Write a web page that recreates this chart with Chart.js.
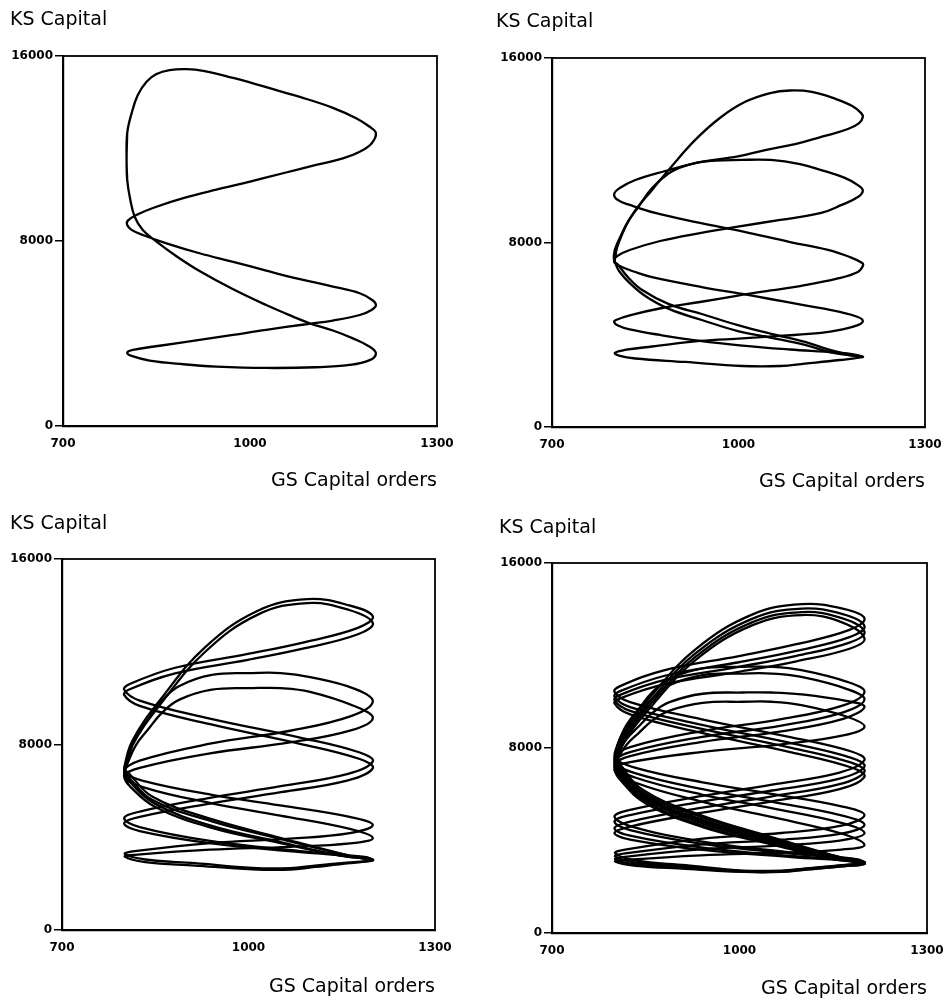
<!DOCTYPE html>
<html>
<head>
<meta charset="utf-8">
<script src="https://cdn.jsdelivr.net/npm/chart.js@4.4.1/dist/chart.umd.min.js"></script>
<style>
  body { margin: 0; background: #fff; }
  canvas { position: absolute; }
</style>
</head>
<body>
<canvas id="c1"></canvas>
<canvas id="c2"></canvas>
<canvas id="c3"></canvas>
<canvas id="c4"></canvas>
<script>
// axis texts and ticks
const yLabel = 'KS Capital';
const xLabel = 'GS Capital orders';
const xTicks = [700, 1000, 1300];
const yTicks = [0, 8000, 16000];

// trajectories [GS capital orders, KS capital]
const p1Loop = [[802,11500],[803,12660],[810,13520],[820,14310],[834,14890],[850,15220],[871,15390],[898,15430],[925,15360],[973,15050],[1026,14650],[1080,14230],[1133,13760],[1171,13300],[1192,12940],[1202,12660],
  [1195,12220],[1176,11860],[1149,11570],[1106,11290],[1053,10930],[1000,10570],[946,10220],[893,9850],[850,9480],[818,9130],[804,8880],[803,8690],
  [810,8480],[828,8260],[866,7900],[919,7470],[973,7100],[1026,6720],[1080,6350],[1133,6030],[1176,5740],[1196,5450],[1202,5230],
  [1195,5020],[1176,4800],[1133,4560],[1090,4400],[1026,4160],[973,3940],[919,3720],[855,3470],[812,3290],[803,3170],
  [810,3030],[839,2830],[893,2670],[946,2570],[1026,2510],[1106,2540],[1160,2640],[1192,2850],[1202,3140],
  [1192,3430],[1165,3790],[1133,4130],[1096,4440],[1069,4730],[1026,5230],[973,5910],[919,6700],[882,7340],[850,7970],[828,8480],[815,9050],[807,9920],[803,10640]];

const p2LoopA = [[800,7150],[801,7680],[813,8410],[832,9320],[861,10280],[893,11320],[930,12440],[970,13400],[1010,14090],[1051,14480],[1083,14590],[1118,14530],[1157,14220],[1183,13920],[1197,13620],[1200,13440],
  [1194,13180],[1176,12920],[1139,12620],[1091,12270],[1043,12010],[999,11730],[938,11490],[882,11100],[834,10710],[809,10360],[800,10100],
  [806,9840],[825,9630],[866,9280],[938,8850],[1006,8480],[1083,8020],[1144,7680],[1179,7370],[1199,7110],[1200,6980],
  [1192,6720],[1160,6440],[1099,6110],[1052,5920],[999,5700],[938,5420],[877,5160],[825,4840],[803,4640],[800,4550],
  [806,4400],[825,4230],[874,3990],[938,3730],[1006,3530],[1083,3360],[1155,3230],[1187,3140],[1200,3035],
  [1187,3100],[1147,3340],[1107,3690],[1051,4050],[999,4420],[941,4900],[888,5330],[845,5940],[822,6500],[805,7070]];
const p2LoopB = [[805,7805],[819,8760],[839,9550],[861,10360],[888,11000],[914,11320],[941,11500],[1006,11580],[1052,11580],[1099,11400],[1133,11140],[1171,10800],[1192,10490],[1200,10255],
  [1192,9970],[1166,9630],[1133,9280],[1067,8980],[999,8690],[938,8410],[874,8065],[825,7675],[805,7415],[800,7200],
  [809,6980],[834,6720],[861,6500],[941,6070],[1006,5770],[1051,5550],[1107,5270],[1163,4990],[1192,4770],[1200,4600],
  [1192,4420],[1163,4210],[1133,4080],[1067,3950],[1006,3840],[938,3730],[861,3490],[817,3340],[801,3210],
  [809,3080],[834,2970],[914,2820],[1006,2645],[1067,2645],[1107,2750],[1163,2905],[1200,3035],
  [1187,3080],[1147,3250],[1107,3560],[1051,3880],[999,4160],[941,4640],[888,5120],[850,5680],[825,6240],[809,6720],[803,7020],[801,7250]];

const p3LoopA1 = [[800,6900],[813,8150],[861,10030],[930,12190],[1015,13770],[1095,14270],[1162,14000],[1200,13525],
  [1176,13030],[1091,12420],[999,11905],[882,11310],[809,10610],[800,10360],
  [825,9895],[938,9120],[1083,8300],[1179,7655],[1200,7270],
  [1160,6730],[1052,6200],[938,5700],[825,5105],[800,4820],
  [825,4440],[938,3845],[1083,3405],[1187,3150],[1200,3020],
  [1147,3307],[1051,3978],[941,4778],[845,5759],[805,6822]];
const p3LoopA2 = [[800,6700],[813,7950],[861,9830],[930,11990],[1015,13600],[1095,14100],[1162,13800],[1200,13240],
  [1176,12756],[1091,12155],[999,11653],[882,11070],[809,10382],[800,10140],
  [825,9666],[938,8876],[1083,8032],[1179,7375],[1200,6980],
  [1160,6452],[1052,5942],[938,5452],[825,4878],[800,4600],
  [825,4268],[938,3747],[1083,3360],[1187,3135],[1200,3020],
  [1147,3292],[1051,3929],[941,4687],[845,5618],[805,6626]];
const p3LoopB1 = [[800,6830],[805,7417],[819,8342],[839,9111],[861,9898],[888,10516],[941,11004],[1006,11080],[1052,11080],[1099,10907],[1171,10400],[1200,9860],
  [1166,9236],[1067,8593],[938,8033],[825,7303],[800,6830],
  [834,6409],[941,5832],[1051,5374],[1163,4875],[1200,4530],
  [1163,4180],[1067,3942],[938,3749],[817,3397],[801,3280],
  [834,3040],[914,2880],[1006,2680],[1067,2670],[1107,2780],[1163,2920],[1200,3020],
  [1147,3218],[1051,3793],[941,4487],[850,5439],[809,6392]];
const p3LoopB2 = [[800,6620],[805,7146],[819,7976],[839,8666],[861,9372],[888,9926],[941,10364],[1006,10430],[1052,10430],[1099,10270],[1171,9650],[1200,9140],
  [1166,8621],[1067,8087],[938,7620],[825,6993],[800,6620],
  [834,6133],[941,5466],[1051,4936],[1163,4359],[1200,3960],
  [1163,3737],[1067,3586],[938,3463],[817,3240],[801,3165],
  [834,2930],[914,2780],[1006,2620],[1067,2610],[1107,2720],[1163,2880],[1200,3020],
  [1147,3207],[1051,3751],[941,4406],[850,5306],[809,6206]];

const p4LoopA1 = [[800,7500],[813,8629],[861,10322],[930,12278],[1020,13770],[1100,14220],[1165,14022],[1200,13600],
  [1176,13105],[1091,12490],[999,11977],[882,11381],[809,10677],[800,10430],
  [825,9987],[938,9250],[1083,8462],[1179,7849],[1200,7480],
  [1160,6938],[1052,6416],[938,5914],[825,5325],[800,5040],
  [825,4622],[938,3965],[1083,3478],[1187,3195],[1200,3050],
  [1147,3379],[1051,4149],[941,5066],[845,6192],[805,7411]];
const p4LoopA2 = [[800,7350],[813,8472],[861,10156],[930,12099],[1020,13582],[1100,14030],[1165,13787],[1200,13270],
  [1176,12794],[1091,12202],[999,11708],[882,11135],[809,10458],[800,10220],
  [825,9767],[938,9012],[1083,8206],[1179,7577],[1200,7200],
  [1160,6672],[1052,6162],[938,5672],[825,5098],[800,4820],
  [825,4448],[938,3864],[1083,3431],[1187,3179],[1200,3050],
  [1147,3368],[1051,4112],[941,4998],[845,6086],[805,7264]];
const p4LoopA3 = [[800,7200],[813,8322],[861,10006],[930,11949],[1020,13432],[1100,13880],[1165,13605],[1200,13020],
  [1176,12560],[1091,11987],[999,11510],[882,10955],[809,10300],[800,10070],
  [825,9606],[938,8834],[1083,8009],[1179,7366],[1200,6980],
  [1160,6436],[1052,5912],[938,5407],[825,4817],[800,4530],
  [825,4209],[938,3704],[1083,3329],[1187,3112],[1200,3000],
  [1147,3311],[1051,4037],[941,4903],[845,5965],[805,7116]];
const p4LoopA4 = [[800,7050],[813,8176],[861,9864],[930,11814],[1020,13301],[1100,13750],[1165,13424],[1200,12730],
  [1176,12293],[1091,11750],[999,11296],[882,10770],[809,10148],[800,9930],
  [825,9454],[938,8662],[1083,7816],[1179,7156],[1200,6760],
  [1160,6218],[1052,5696],[938,5194],[825,4605],[800,4320],
  [825,4043],[938,3607],[1083,3284],[1187,3096],[1200,3000],
  [1147,3300],[1051,4000],[941,4835],[845,5859],[805,6969]];
const p4LoopB1 = [[800,7600],[805,8140],[819,8992],[839,9700],[861,10427],[888,10994],[941,11444],[1006,11510],[1052,11510],[1099,11369],[1171,10873],[1200,10430],
  [1166,9847],[1067,9247],[938,8724],[825,8041],[800,7600],
  [834,7142],[941,6515],[1051,6017],[1163,5475],[1200,5100],
  [1163,4638],[1067,4324],[938,4069],[817,3605],[801,3450],
  [834,3135],[914,2932],[1006,2700],[1067,2700],[1107,2798],[1163,2931],[1200,3050],
  [1147,3287],[1051,3974],[941,4802],[850,5939],[809,7077]];
const p4LoopB2 = [[800,7400],[805,7927],[819,8760],[839,9451],[861,10162],[888,10716],[941,11155],[1006,11220],[1052,11220],[1099,11073],[1171,10559],[1200,10100],
  [1166,9544],[1067,8971],[938,8472],[825,7821],[800,7400],
  [834,6902],[941,6220],[1051,5678],[1163,5088],[1200,4680],
  [1163,4296],[1067,4036],[938,3824],[817,3439],[801,3310],
  [834,3045],[914,2875],[1006,2680],[1067,2680],[1107,2784],[1163,2924],[1200,3050],
  [1147,3276],[1051,3933],[941,4725],[850,5812],[809,6900]];
const p4LoopB3 = [[800,7250],[805,7685],[819,8371],[839,8942],[861,9527],[888,9984],[941,10346],[1006,10400],[1052,10400],[1099,10319],[1171,10034],[1200,9780],
  [1166,9259],[1067,8722],[938,8254],[825,7645],[800,7250],
  [834,6714],[941,5978],[1051,5395],[1163,4759],[1200,4320],
  [1163,4004],[1067,3789],[938,3614],[817,3296],[801,3190],
  [834,2963],[914,2817],[1006,2650],[1067,2650],[1107,2748],[1163,2881],[1200,3000],
  [1147,3221],[1051,3863],[941,4636],[850,5699],[809,6761]];
const p4LoopB4 = [[800,7100],[805,7500],[819,8132],[839,8657],[861,9197],[888,9617],[941,9951],[1006,10000],[1052,10000],[1099,9859],[1171,9363],[1200,8920],
  [1166,8545],[1067,8159],[938,7823],[825,7384],[800,7100],
  [834,6498],[941,5672],[1051,5017],[1163,4303],[1200,3810],
  [1163,3608],[1067,3472],[938,3360],[817,3158],[801,3090],
  [834,2901],[914,2779],[1006,2640],[1067,2640],[1107,2741],[1163,2878],[1200,3000],
  [1147,3213],[1051,3832],[941,4579],[850,5604],[809,6629]];

// layout of the four panels (page pixels)
const panels = [
  { id: 'c1', loops: [p1Loop], left: 10, top: 0, w: 460, h: 495, yW: 53, xH: 69, right: 33, tTop: 8.6, tBot: 24.6, xtBot: 2.6 },
  { id: 'c2', loops: [p2LoopA, p2LoopB], left: 496, top: 0, w: 450, h: 495, yW: 56, xH: 68, right: 21, tTop: 10.6, tBot: 24.6, xtBot: 1.9 },
  { id: 'c3', loops: [p3LoopA1, p3LoopA2, p3LoopB1, p3LoopB2], left: 10, top: 500, w: 460, h: 500, yW: 52, xH: 70, right: 35, tTop: 12.6, tBot: 23.6, xtBot: 1.6 },
  { id: 'c4', loops: [p4LoopA1, p4LoopA2, p4LoopA3, p4LoopA4, p4LoopB1, p4LoopB2, p4LoopB3, p4LoopB4], left: 499, top: 500, w: 447, h: 500, yW: 53, xH: 67, right: 19, tTop: 16.6, tBot: 23.6, xtBot: 0 }
];

Chart.defaults.font.family = "'DejaVu Sans', sans-serif";
Chart.defaults.color = '#000';

// box around the plot
const frame = {
  id: 'frame',
  afterDraw(chart) {
    const { ctx, chartArea: a } = chart;
    ctx.save();
    ctx.strokeStyle = '#000';
    ctx.lineWidth = 1.8;
    ctx.strokeRect(a.left, a.top, a.right - a.left, a.bottom - a.top);
    ctx.restore();
  }
};

// close a loop so the spline stays smooth where it starts
function closed(loop) {
  return [loop[loop.length - 1], ...loop, loop[0], loop[1]].map(([x, y]) => ({ x, y }));
}

const tickFont = { size: 12, weight: 'bold' };
const textFont = { size: 19, weight: 'normal' };

panels.forEach(p => {
  const cv = document.getElementById(p.id);
  cv.width = p.w;
  cv.height = p.h;
  cv.style.left = p.left + 'px';
  cv.style.top = p.top + 'px';
  cv.style.width = p.w + 'px';
  cv.style.height = p.h + 'px';

  new Chart(cv.getContext('2d'), {
    type: 'scatter',
    data: {
      datasets: p.loops.map(loop => ({
        data: closed(loop),
        showLine: true,
        borderColor: '#000',
        borderWidth: 2.3,
        pointRadius: 0,
        pointHoverRadius: 0,
        tension: 0.4,
        borderJoinStyle: 'round'
      }))
    },
    options: {
      responsive: false,
      animation: false,
      events: [],
      layout: { padding: { left: 0, top: 0, right: p.right, bottom: 0 } },
      plugins: {
        legend: { display: false },
        tooltip: { enabled: false },
        title: {
          display: true,
          text: yLabel,
          align: 'start',
          font: textFont,
          color: '#000',
          padding: { top: p.tTop, bottom: p.tBot }
        }
      },
      scales: {
        x: {
          type: 'linear',
          min: xTicks[0],
          max: xTicks[xTicks.length - 1],
          afterBuildTicks: s => { s.ticks = xTicks.map(v => ({ value: v })); },
          afterFit: s => { s.height = p.xH; s.paddingLeft = 0; s.paddingRight = 0; },
          grid: { display: false },
          border: { display: true, color: '#000', width: 2.2 },
          ticks: { font: tickFont, color: '#000', padding: 3, maxRotation: 0, callback: v => String(v) },
          title: {
            display: true,
            text: xLabel,
            align: 'end',
            font: textFont,
            color: '#000',
            padding: { top: 0, bottom: p.xtBot }
          }
        },
        y: {
          type: 'linear',
          min: yTicks[0],
          max: yTicks[yTicks.length - 1],
          afterBuildTicks: s => { s.ticks = yTicks.map(v => ({ value: v })); },
          afterFit: s => { s.width = p.yW; },
          grid: { display: true, drawOnChartArea: false, drawTicks: true, tickLength: 8, color: '#000', lineWidth: 1.5 },
          border: { display: true, color: '#000', width: 2.2 },
          ticks: { font: tickFont, color: '#000', padding: 2, callback: v => String(v) }
        }
      }
    },
    plugins: [frame]
  });
});
</script>
</body>
</html>
